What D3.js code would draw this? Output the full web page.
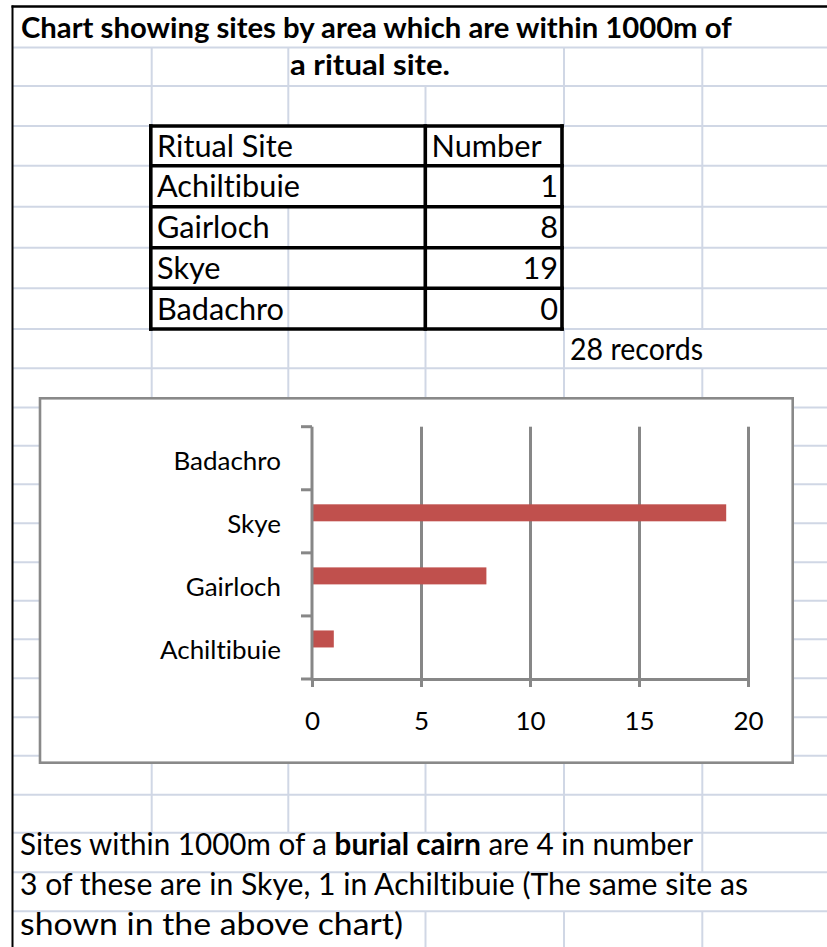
<!DOCTYPE html>
<html>
<head>
<meta charset="utf-8">
<script src="https://cdn.jsdelivr.net/npm/d3@7"></script>
<style>
  html, body { margin: 0; padding: 0; background: #fff; }
  svg { display: block; }
  text {
    font-family: Lato, "Open Sans", "DejaVu Sans", sans-serif; fill: #000;
    font-variant-ligatures: none; font-feature-settings: "liga" 0, "clig" 0;
  }
</style>
</head>
<body>
<svg id="sheet" width="827" height="947"></svg>
<script>
// ---- data ----
const sites = ["Achiltibuie", "Gairloch", "Skye", "Badachro"];
const counts = [1, 8, 19, 0];
const xTicks = [0, 5, 10, 15, 20];
const tableHeader = ["Ritual Site", "Number"];
const titleLines = ["Chart showing sites by area which are within 1000m of", "a ritual site."];
const noteLine1 = [["Sites within 1000m of a ", false], ["burial cairn", true], [" are 4 in number", false]];
const noteLine2 = "3 of these are in Skye, 1 in Achiltibuie (The same site as";
const noteLine3 = "shown in the above chart)";

// ---- sheet layout ----
const W = 827, H = 947;
const svg = d3.select("#sheet");
const rowY = [6.5, 47.5, 86, 126, 165.7, 206.8, 247.8, 288.3, 329, 368.3, 407.5, 445.7,
              484.3, 523.3, 562.3, 600.7, 639.3, 678.3, 717.3, 755.7, 794.7, 832.7, 872.3, 911.3];
const colX = [12.5, 151.7, 288.3, 425.5, 564, 702.3];
const rowBottom = i => (i + 1 < rowY.length ? rowY[i + 1] : H + 5);
// column lines hidden in a row by overflowing text or the table block
const hiddenCols = {
  0: [1, 2, 3, 4, 5], 1: [3], 3: [1, 2, 3, 4], 4: [1, 2, 3, 4],
  5: [1, 3, 4], 6: [1, 3, 4], 7: [1, 3, 4], 8: [5],
  21: [1, 2, 3, 4], 22: [1, 2, 3, 4, 5], 23: [1, 2]
};

function measure(str, weight, size) {
  const t = svg.append("text").attr("font-size", size).attr("font-weight", weight).text(str);
  const w = t.node().getComputedTextLength();
  t.remove();
  return w;
}
const cellSize = 100 * 143 / measure("Achiltibuie", 400, 100);
const titleSize = 100 * 711 / measure(titleLines[0], 700, 100);
const chartSize = 100 * 121 / measure("Achiltibuie", 400, 100);

// squeeze or stretch a line of cell text to the span it fills
function fit(sel, width) {
  return sel.attr("textLength", width).attr("lengthAdjust", "spacingAndGlyphs");
}

// gridlines of the worksheet
const grid = svg.append("g").attr("stroke", "#D0D7E5").attr("stroke-width", 2);
rowY.slice(1).forEach(y => {
  grid.append("line").attr("x1", colX[0]).attr("x2", W).attr("y1", y).attr("y2", y);
});
rowY.forEach((y, i) => {
  const hid = hiddenCols[i] || [];
  colX.forEach((x, c) => {
    if (c === 0 || hid.includes(c)) return;
    grid.append("line").attr("x1", x).attr("x2", x).attr("y1", y).attr("y2", rowBottom(i));
  });
});

// outer sheet border
svg.append("line").attr("x1", 11.5).attr("x2", W).attr("y1", 6.5).attr("y2", 6.5)
  .attr("stroke", "#000").attr("stroke-width", 2.5);
svg.append("line").attr("x1", 12.5).attr("x2", 12.5).attr("y1", 5.5).attr("y2", H)
  .attr("stroke", "#000").attr("stroke-width", 2);

// title
svg.append("text").attr("x", 21).attr("y", 37.5).attr("font-weight", 700)
  .attr("font-size", titleSize).text(titleLines[0]);
fit(svg.append("text").attr("x", 290).attr("y", 75).attr("font-weight", 700)
  .attr("font-size", titleSize).text(titleLines[1]), 160);

// ---- table ----
const tbl = { left: 150.8, mid: 425.3, right: 562, rows: rowY.slice(3, 9) };
const tableRows = [tableHeader].concat(sites.map((s, i) => [s, counts[i]]));
const tg = svg.append("g");
tableRows.forEach((r, i) => {
  const base = tbl.rows[i] + 31.2;
  tg.append("text").attr("x", 157).attr("y", base).attr("font-size", cellSize).text(r[0]);
  tg.append("text").attr("x", i === 0 ? 431.5 : 558).attr("y", base)
    .attr("text-anchor", i === 0 ? "start" : "end")
    .attr("font-size", cellSize).text(r[1]);
});
const border = tg.append("g").attr("stroke", "#000").attr("stroke-width", 3.6)
  .attr("stroke-linecap", "square");
tbl.rows.forEach(y => {
  border.append("line").attr("x1", tbl.left).attr("x2", tbl.right).attr("y1", y).attr("y2", y);
});
[tbl.left, tbl.mid, tbl.right].forEach(x => {
  border.append("line").attr("x1", x).attr("x2", x)
    .attr("y1", tbl.rows[0]).attr("y2", tbl.rows[tbl.rows.length - 1]);
});

fit(svg.append("text").attr("x", 570).attr("y", rowY[8] + 31).attr("font-size", cellSize)
  .text(d3.sum(counts) + " records"), 133);

// ---- embedded bar chart ----
const box = { x: 40, y: 398.3, w: 752.7, h: 364.4 };
svg.append("rect").attr("x", box.x).attr("y", box.y).attr("width", box.w).attr("height", box.h)
  .attr("fill", "#fff").attr("stroke", "#898989").attr("stroke-width", 2.6);

const plot = { left: 312, right: 748, top: 426.7, bottom: 679 };
const axisColor = "#878787";
const x = d3.scaleLinear().domain([0, 20]).range([plot.left, plot.right]);
const y = d3.scaleBand().domain(sites).range([plot.bottom, plot.top]);
const yEdge = d3.scaleLinear().domain([0, sites.length]).range([plot.bottom, plot.top]);

const chart = svg.append("g");

// vertical value gridlines
const gridAxis = chart.append("g").attr("transform", `translate(0,${plot.bottom})`)
  .call(d3.axisBottom(x).tickValues(xTicks.slice(1)).tickSize(-(plot.bottom - plot.top)).tickFormat(""));
gridAxis.select(".domain").remove();
gridAxis.selectAll(".tick line").attr("stroke", axisColor).attr("stroke-width", 3);

// bars
chart.append("g").selectAll("rect").data(sites).join("rect")
  .attr("x", x(0))
  .attr("y", d => y(d) + y.bandwidth() / 2 - 17)
  .attr("width", (d, i) => x(counts[i]) - x(0))
  .attr("height", 17)
  .attr("fill", "#C0504D");

// value axis
const xAxis = chart.append("g").attr("transform", `translate(0,${plot.bottom})`)
  .call(d3.axisBottom(x).tickValues(xTicks).tickSize(8).tickSizeOuter(0).tickFormat(d3.format("d")));
xAxis.attr("font-family", null).attr("font-size", null);
xAxis.select(".domain").attr("stroke", axisColor).attr("stroke-width", 3);
xAxis.selectAll(".tick line").attr("stroke", axisColor).attr("stroke-width", 3);
xAxis.selectAll(".tick text").attr("y", 51).attr("dy", null)
  .attr("font-size", chartSize).attr("fill", "#000");

// category axis
const yAxis = chart.append("g").attr("transform", `translate(${plot.left},0)`)
  .call(d3.axisLeft(y).tickSize(0).tickPadding(31));
yAxis.attr("font-family", null).attr("font-size", null);
yAxis.select(".domain").remove();
yAxis.selectAll(".tick text").attr("dy", "0.45em").attr("font-size", chartSize).attr("fill", "#000");
chart.append("line").attr("x1", plot.left).attr("x2", plot.left)
  .attr("y1", plot.top).attr("y2", plot.bottom + 1.5)
  .attr("stroke", axisColor).attr("stroke-width", 3);
chart.append("g").selectAll("line").data(d3.range(sites.length + 1)).join("line")
  .attr("x1", plot.left - 11).attr("x2", plot.left)
  .attr("y1", d => yEdge(d)).attr("y2", d => yEdge(d))
  .attr("stroke", axisColor).attr("stroke-width", 3);

// ---- notes below the chart ----
const n1 = fit(svg.append("text").attr("x", 20).attr("y", rowY[21] + 22.5).attr("font-size", cellSize), 673);
noteLine1.forEach(([s, b]) => n1.append("tspan").attr("font-weight", b ? 700 : 400).text(s));
fit(svg.append("text").attr("x", 20).attr("y", rowY[22] + 22.7).attr("font-size", cellSize).text(noteLine2), 728);
fit(svg.append("text").attr("x", 20).attr("y", rowY[23] + 23.5).attr("font-size", cellSize).text(noteLine3), 383);
</script>
</body>
</html>
